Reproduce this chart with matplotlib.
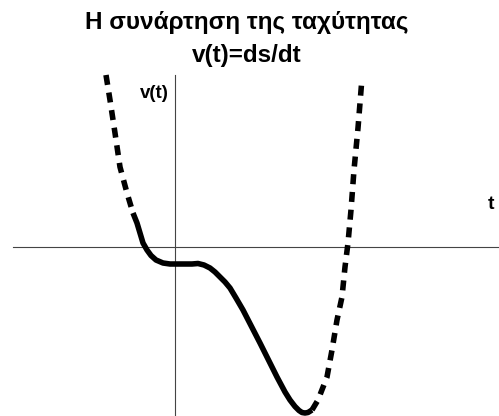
import matplotlib
matplotlib.use("Agg")
import matplotlib.pyplot as plt

# velocity curve v(t), read in three pieces: dashed left branch,
# solid middle part, dashed right branch
t_left = [-1.38, -1.30, -1.20, -1.10, -0.96, -0.84]
v_left = [3.44, 2.94, 2.28, 1.60, 1.08, 0.68]

t_mid = [-0.84, -0.76, -0.70, -0.64, -0.56, -0.48, -0.38, -0.24, -0.10, 0.00, 0.20,
         0.34, 0.46, 0.58, 0.70, 0.80, 0.90, 1.00, 1.10, 1.22, 1.36, 1.70, 2.04,
         2.20, 2.30, 2.40, 2.48, 2.54, 2.60, 2.66, 2.74]
v_mid = [0.68, 0.48, 0.28, 0.08, -0.06, -0.17, -0.26, -0.32, -0.34, -0.34, -0.34,
         -0.34, -0.33, -0.36, -0.42, -0.50, -0.60, -0.70, -0.82, -1.02, -1.26, -1.92, -2.60,
         -2.90, -3.06, -3.19, -3.27, -3.31, -3.32, -3.31, -3.26]

t_right = [2.74, 2.86, 3.04, 3.14, 3.24, 3.34, 3.40, 3.46, 3.52, 3.58, 3.66, 3.74]
v_right = [-3.26, -3.06, -2.60, -2.06, -1.46, -1.00, -0.40, 0.08, 0.74, 1.54, 2.38, 3.38]

title_line1 = "Η συνάρτηση της ταχύτητας"
title_line2 = "v(t)=ds/dt"

plt.rcParams["font.family"] = ["Liberation Sans", "DejaVu Sans"]

fig = plt.figure(figsize=(4.99, 4.16), dpi=100)
ax = fig.add_axes([0, 0, 1, 1])
ax.set_xlim(-3.5, 6.48)
ax.set_ylim(-3.38, 4.94)
ax.axis("off")

# coordinate axes
ax.axhline(0, xmin=0.026, xmax=1.0, color="#444444", lw=0.8)
ax.axvline(0, ymin=0.0, ymax=0.82, color="#444444", lw=0.8)

lw = 4.0
dash = (0, (1.8, 1.4))
ax.plot(t_left, v_left, color="black", lw=lw, linestyle=dash, dash_capstyle="butt")
ax.plot(t_mid, v_mid, color="black", lw=lw, solid_joinstyle="round", solid_capstyle="butt")
ax.plot(t_right, v_right, color="black", lw=lw, linestyle=dash, dash_capstyle="butt")

fig.text(0.495, 1 - 29 / 416, title_line1, ha="center", va="baseline",
         fontsize=17.5, fontweight="bold")
fig.text(0.495, 1 - 62 / 416, title_line2, ha="center", va="baseline",
         fontsize=17.5, fontweight="bold")

ax.text(-0.12, 3.08, "v(t)", ha="right", va="center", fontsize=13.5, fontweight="bold")
ax.text(6.32, 0.86, "t", ha="center", va="center", fontsize=14, fontweight="bold")

fig.savefig("out.png", dpi=100)
